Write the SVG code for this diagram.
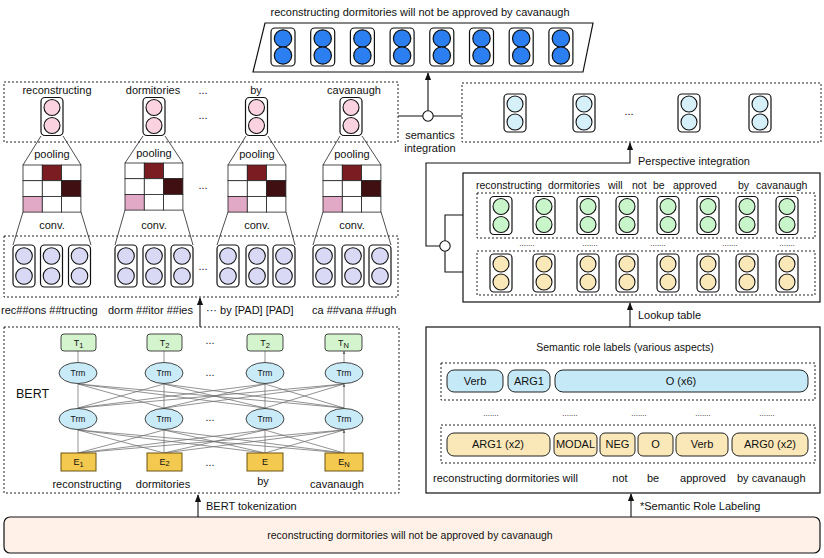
<svg xmlns="http://www.w3.org/2000/svg" xmlns:xlink="http://www.w3.org/1999/xlink" width="824" height="558" viewBox="0 0 824 558">
<style>
text{font-family:"Liberation Sans",Arial,sans-serif;fill:#111;}
.t11{font-size:11px;}
.t10{font-size:10.5px;}
.mid{text-anchor:middle;}
.dot{fill:none;stroke:#222;stroke-width:1;stroke-dasharray:2,2;}
.solid{fill:#fff;stroke:#111;stroke-width:1.2;}
.ln{fill:none;stroke:#111;stroke-width:1.1;}
.thin{fill:none;stroke:#222;stroke-width:0.8;}
.g{fill:none;stroke:#6f6f6f;stroke-width:0.75;}
.pb{fill:#c6e9f7;stroke:#222;stroke-width:1;}
.py{fill:#fbe8b8;stroke:#222;stroke-width:1;}
.cell{fill:#fff;stroke:#222;stroke-width:0.8;}
.trm{fill:#c9ebf7;stroke:#333;stroke-width:0.9;}
.tb{fill:#d3f4cc;stroke:#333;stroke-width:0.9;}
.eb{fill:#f4c94f;stroke:#6b5412;stroke-width:1;}
.sm{font-size:7.5px;}
</style>
<defs>
<marker id="ah" viewBox="0 0 10 10" refX="9" refY="5" markerWidth="7" markerHeight="7" orient="auto"><path d="M0,1 L10,5 L0,9 z" fill="#111"/></marker>
<marker id="ag" viewBox="0 0 10 10" refX="9" refY="5" markerWidth="5" markerHeight="5" orient="auto"><path d="M0,1 L10,5 L0,9 z" fill="#666"/></marker>
<g id="nb"><rect x="-12" y="-19" width="24" height="38" rx="4" fill="#fff" stroke="#111" stroke-width="1.2"/><circle cy="-8.5" r="8.7" stroke="#111" stroke-width="1.2"/><circle cy="8.5" r="8.7" stroke="#111" stroke-width="1.2"/></g>
<g id="n2"><rect x="-11" y="-19" width="22" height="38" rx="4" fill="#fff" stroke="#111" stroke-width="1.2"/><circle cy="-9" r="8" stroke="#111" stroke-width="1.1"/><circle cy="9" r="8" stroke="#111" stroke-width="1.1"/></g>
<g id="nl"><rect x="-11" y="-21" width="22" height="42" rx="4" fill="#fff" stroke="#111" stroke-width="1.2"/><circle cy="-10" r="8.3" stroke="#111" stroke-width="1.1"/><circle cy="10" r="8.3" stroke="#111" stroke-width="1.1"/></g>
<g id="grid">
<rect class="cell" x="0" y="0" width="19.3" height="15.7"/><rect x="19.3" y="0" width="19.3" height="15.7" fill="#7b1c22" stroke="#222" stroke-width="0.8"/><rect class="cell" x="38.6" y="0" width="19.3" height="15.7"/>
<rect class="cell" x="0" y="15.7" width="19.3" height="15.7"/><rect class="cell" x="19.3" y="15.7" width="19.3" height="15.7"/><rect x="38.6" y="15.7" width="19.3" height="15.7" fill="#3f0f12" stroke="#222" stroke-width="0.8"/>
<rect x="0" y="31.4" width="19.3" height="15.7" fill="#e2a9c6" stroke="#222" stroke-width="0.8"/><rect class="cell" x="19.3" y="31.4" width="19.3" height="15.7"/><rect class="cell" x="38.6" y="31.4" width="19.3" height="15.7"/>
</g>
</defs>
<rect width="824" height="558" fill="#fff"/>

<!-- top output -->
<g id="output">
<text class="t11 mid" x="420" y="16">reconstructing dormitories will not be approved by cavanaugh</text>
<polygon class="solid" points="265,23 593,23 583,72 253,72"/>
<use xlink:href="#nb" x="283" y="47" fill="#2b7ff0"/>
<use xlink:href="#nb" x="322.7" y="47" fill="#2b7ff0"/>
<use xlink:href="#nb" x="362.4" y="47" fill="#2b7ff0"/>
<use xlink:href="#nb" x="402.1" y="47" fill="#2b7ff0"/>
<use xlink:href="#nb" x="441.8" y="47" fill="#2b7ff0"/>
<use xlink:href="#nb" x="481.5" y="47" fill="#2b7ff0"/>
<use xlink:href="#nb" x="521.2" y="47" fill="#2b7ff0"/>
<use xlink:href="#nb" x="560.9" y="47" fill="#2b7ff0"/>
</g>

<!-- pooled word vectors -->
<g id="word-vectors">
<rect class="dot" x="4" y="82" width="394" height="60"/>
<text class="t11 mid" x="57" y="94">reconstructing</text>
<text class="t11 mid" x="153" y="94">dormitories</text>
<text class="t11 mid" x="203" y="94">...</text>
<text class="t11 mid" x="256" y="94">by</text>
<text class="t11 mid" x="354" y="94">cavanaugh</text>
<text class="t11 mid" x="203" y="119">...</text>
<use xlink:href="#n2" x="52" y="116.5" fill="#fbd3e0"/>
<use xlink:href="#n2" x="154" y="116.5" fill="#fbd3e0"/>
<use xlink:href="#n2" x="256.5" y="116.5" fill="#fbd3e0"/>
<use xlink:href="#n2" x="351" y="116.5" fill="#fbd3e0"/>
</g>

<!-- semantic vectors -->
<g id="semantic-vectors">
<rect class="dot" x="462" y="83" width="359" height="59"/>
<use xlink:href="#n2" x="515" y="113" fill="#d6f0f9"/>
<use xlink:href="#n2" x="584" y="113" fill="#d6f0f9"/>
<text class="t11 mid" x="629" y="115">...</text>
<use xlink:href="#n2" x="689" y="113" fill="#d6f0f9"/>
<use xlink:href="#n2" x="760" y="113" fill="#d6f0f9"/>
</g>

<!-- CNN pooling -->
<g id="cnn">
<g id="cnn1">
<line class="thin" x1="23" y1="165" x2="41" y2="136"/><line class="thin" x1="81" y1="165" x2="63" y2="136"/>
<text class="t11 mid" x="52" y="158">pooling</text>
<use xlink:href="#grid" x="23" y="165"/>
<line class="thin" x1="23" y1="212" x2="13" y2="245"/><line class="thin" x1="81" y1="212" x2="91" y2="245"/>
<text class="t11 mid" x="52" y="229">conv.</text>
</g>
<g id="cnn2">
<line class="thin" x1="125" y1="163" x2="143" y2="136"/><line class="thin" x1="183" y1="163" x2="165" y2="136"/>
<text class="t11 mid" x="154" y="157">pooling</text>
<use xlink:href="#grid" x="125" y="163"/>
<line class="thin" x1="125" y1="210" x2="115" y2="245"/><line class="thin" x1="183" y1="210" x2="193" y2="245"/>
<text class="t11 mid" x="154" y="229">conv.</text>
</g>
<text class="t11 mid" x="203" y="189">...</text>
<g id="cnn3">
<line class="thin" x1="228" y1="165" x2="246" y2="136"/><line class="thin" x1="286" y1="165" x2="268" y2="136"/>
<text class="t11 mid" x="257" y="158">pooling</text>
<use xlink:href="#grid" x="228" y="165"/>
<line class="thin" x1="228" y1="212" x2="217" y2="245"/><line class="thin" x1="286" y1="212" x2="295" y2="245"/>
<text class="t11 mid" x="257" y="229">conv.</text>
</g>
<g id="cnn4">
<line class="thin" x1="323" y1="165" x2="340" y2="136"/><line class="thin" x1="381" y1="165" x2="362" y2="136"/>
<text class="t11 mid" x="352" y="158">pooling</text>
<use xlink:href="#grid" x="323" y="165"/>
<line class="thin" x1="323" y1="212" x2="313" y2="245"/><line class="thin" x1="381" y1="212" x2="391" y2="245"/>
<text class="t11 mid" x="352" y="229">conv.</text>
</g>
</g>

<!-- subword vectors -->
<g id="subword-vectors">
<rect class="dot" x="4" y="236" width="394" height="61"/>
<use xlink:href="#nl" x="24" y="266" fill="#d9d9f5"/>
<use xlink:href="#nl" x="51.5" y="266" fill="#d9d9f5"/>
<use xlink:href="#nl" x="79.5" y="266" fill="#d9d9f5"/>
<use xlink:href="#nl" x="126" y="266" fill="#d9d9f5"/>
<use xlink:href="#nl" x="154" y="266" fill="#d9d9f5"/>
<use xlink:href="#nl" x="182" y="266" fill="#d9d9f5"/>
<text class="t11 mid" x="203" y="270">...</text>
<use xlink:href="#nl" x="228" y="266" fill="#d9d9f5"/>
<use xlink:href="#nl" x="257" y="266" fill="#d9d9f5"/>
<use xlink:href="#nl" x="284" y="266" fill="#d9d9f5"/>
<use xlink:href="#nl" x="324" y="266" fill="#d9d9f5"/>
<use xlink:href="#nl" x="353" y="266" fill="#d9d9f5"/>
<use xlink:href="#nl" x="380" y="266" fill="#d9d9f5"/>
</g>

<g id="subword-tokens">
<text class="t11" x="1" y="314">rec##ons ##tructing</text>
<text class="t11" x="108" y="314">dorm ##itor ##ies</text>
<text class="t11" x="206" y="314">··· by [PAD]  [PAD]</text>
<text class="t11" x="312" y="314">ca  ##vana ##ugh</text>
</g>

<!-- BERT -->
<g id="bert">
<rect class="dot" x="4" y="327" width="395" height="166"/>
<text x="16" y="398" style="font-size:12.5px">BERT</text>
<g id="bert-links">
<path class="g" marker-end="url(#ag)" d="M78,453 L78,430 M78,453 L164,430 M78,453 L265,430 M78,453 L344,430 M164,453 L78,430 M164,453 L164,430 M164,453 L265,430 M164,453 L344,430 M265,453 L78,430 M265,453 L164,430 M265,453 L265,430 M265,453 L344,430 M344,453 L78,430 M344,453 L164,430 M344,453 L265,430 M344,453 L344,430"/>
<path class="g" marker-end="url(#ag)" d="M78,408 L78,384 M78,408 L164,384 M78,408 L265,384 M78,408 L344,384 M164,408 L78,384 M164,408 L164,384 M164,408 L265,384 M164,408 L344,384 M265,408 L78,384 M265,408 L164,384 M265,408 L265,384 M265,408 L344,384 M344,408 L78,384 M344,408 L164,384 M344,408 L265,384 M344,408 L344,384"/>
<path class="g" marker-end="url(#ag)" d="M78,362 L78,351 M164,362 L164,351 M265,362 L265,351 M344,362 L344,351"/>
</g>
<g id="bert-t">
<rect class="tb" x="61" y="334" width="35" height="17" rx="3"/><text class="mid" x="78.5" y="346" style="font-size:9px">T<tspan class="sm" dy="2">1</tspan></text>
<rect class="tb" x="147" y="334" width="35" height="17" rx="3"/><text class="mid" x="164.5" y="346" style="font-size:9px">T<tspan class="sm" dy="2">2</tspan></text>
<rect class="tb" x="247" y="334" width="36" height="17" rx="3"/><text class="mid" x="265" y="346" style="font-size:9px">T<tspan class="sm" dy="2">2</tspan></text>
<rect class="tb" x="325" y="334" width="37" height="17" rx="3"/><text class="mid" x="343.5" y="346" style="font-size:9px">T<tspan class="sm" dy="2">N</tspan></text>
</g>
<g id="bert-trm">
<ellipse class="trm" cx="78" cy="373" rx="19" ry="10.5"/><text class="mid" x="78" y="376" style="font-size:8.5px">Trm</text>
<ellipse class="trm" cx="164" cy="373" rx="19" ry="10.5"/><text class="mid" x="164" y="376" style="font-size:8.5px">Trm</text>
<ellipse class="trm" cx="265" cy="373" rx="19" ry="10.5"/><text class="mid" x="265" y="376" style="font-size:8.5px">Trm</text>
<ellipse class="trm" cx="344" cy="373" rx="19" ry="10.5"/><text class="mid" x="344" y="376" style="font-size:8.5px">Trm</text>
<ellipse class="trm" cx="78" cy="419" rx="19" ry="10.5"/><text class="mid" x="78" y="422" style="font-size:8.5px">Trm</text>
<ellipse class="trm" cx="164" cy="419" rx="19" ry="10.5"/><text class="mid" x="164" y="422" style="font-size:8.5px">Trm</text>
<ellipse class="trm" cx="265" cy="419" rx="19" ry="10.5"/><text class="mid" x="265" y="422" style="font-size:8.5px">Trm</text>
<ellipse class="trm" cx="344" cy="419" rx="19" ry="10.5"/><text class="mid" x="344" y="422" style="font-size:8.5px">Trm</text>
</g>
<g id="bert-e">
<rect class="eb" x="61" y="453" width="35" height="18"/><text class="mid" x="78.5" y="465" style="font-size:9px">E<tspan class="sm" dy="2">1</tspan></text>
<rect class="eb" x="147" y="453" width="35" height="18"/><text class="mid" x="164.5" y="465" style="font-size:9px">E<tspan class="sm" dy="1">2</tspan></text>
<rect class="eb" x="247" y="453" width="36" height="18"/><text class="mid" x="265" y="465" style="font-size:9px">E</text>
<rect class="eb" x="325" y="453" width="38" height="18"/><text class="mid" x="344" y="465" style="font-size:9px">E<tspan class="sm" dy="2">N</tspan></text>
</g>
<g id="bert-dots">
<text class="t10 mid" x="210" y="344">...</text>
<text class="t10 mid" x="210" y="376">...</text>
<text class="t10 mid" x="210" y="421">...</text>
<text class="t10 mid" x="210" y="466">...</text>
</g>
<text class="t11 mid" x="87" y="488">reconstructing</text>
<text class="t11 mid" x="163" y="488">dormitories</text>
<text class="t11 mid" x="263" y="485">by</text>
<text class="t11 mid" x="337" y="488">cavanaugh</text>
</g>

<!-- semantic embeddings -->
<g id="srl-embeddings">
<rect class="solid" x="463" y="173" width="357" height="129"/>
<text class="t10" x="476" y="189">reconstructing</text>
<text class="t10" x="548" y="189">dormitories</text>
<text class="t10" x="608" y="189">will</text>
<text class="t10" x="632" y="189">not</text>
<text class="t10" x="653" y="189">be</text>
<text class="t10" x="673" y="189">approved</text>
<text class="t10" x="738" y="189">by</text>
<text class="t10" x="756" y="189">cavanaugh</text>
<rect class="dot" x="477" y="193" width="338" height="45"/>
<use xlink:href="#n2" x="501" y="215.5" fill="#c9f5cb"/>
<use xlink:href="#n2" x="544" y="215.5" fill="#c9f5cb"/>
<use xlink:href="#n2" x="588" y="215.5" fill="#c9f5cb"/>
<use xlink:href="#n2" x="627" y="215.5" fill="#c9f5cb"/>
<use xlink:href="#n2" x="668" y="215.5" fill="#c9f5cb"/>
<use xlink:href="#n2" x="708" y="215.5" fill="#c9f5cb"/>
<use xlink:href="#n2" x="747" y="215.5" fill="#c9f5cb"/>
<use xlink:href="#n2" x="787" y="215.5" fill="#c9f5cb"/>
<text class="mid" x="527" y="246" style="font-size:8px">.......</text>
<text class="mid" x="590" y="246" style="font-size:8px">.......</text>
<text class="mid" x="658" y="246" style="font-size:8px">.......</text>
<text class="mid" x="730" y="246" style="font-size:8px">.......</text>
<text class="mid" x="787" y="246" style="font-size:8px">.......</text>
<rect class="dot" x="477" y="251" width="338" height="44"/>
<use xlink:href="#n2" x="501" y="273" fill="#fbe8b8"/>
<use xlink:href="#n2" x="544" y="273" fill="#fbe8b8"/>
<use xlink:href="#n2" x="588" y="273" fill="#fbe8b8"/>
<use xlink:href="#n2" x="627" y="273" fill="#fbe8b8"/>
<use xlink:href="#n2" x="668" y="273" fill="#fbe8b8"/>
<use xlink:href="#n2" x="708" y="273" fill="#fbe8b8"/>
<use xlink:href="#n2" x="747" y="273" fill="#fbe8b8"/>
<use xlink:href="#n2" x="787" y="273" fill="#fbe8b8"/>
</g>

<!-- SRL labels -->
<g id="srl-labels">
<rect class="solid" x="426" y="327" width="394" height="166"/>
<text class="t10 mid" x="625" y="351">Semantic  role labels (various aspects)</text>
<rect class="dot" x="441" y="363" width="374" height="37"/>
<rect class="pb" x="447" y="370" width="56" height="22" rx="7"/><text class="t11 mid" x="475" y="385">Verb</text>
<rect class="pb" x="508" y="370" width="42" height="22" rx="7"/><text class="t11 mid" x="529" y="385">ARG1</text>
<rect class="pb" x="555" y="370" width="253" height="22" rx="8"/><text class="t11 mid" x="681" y="385">O (x6)</text>
<text class="mid" x="491" y="416" style="font-size:8px">.......</text>
<text class="mid" x="570" y="416" style="font-size:8px">.......</text>
<text class="mid" x="639" y="416" style="font-size:8px">.......</text>
<text class="mid" x="703" y="416" style="font-size:8px">.......</text>
<text class="mid" x="767" y="416" style="font-size:8px">.......</text>
<rect class="dot" x="441" y="425" width="374" height="38"/>
<rect class="py" x="447" y="433" width="103" height="23" rx="7"/><text class="t11 mid" x="498" y="448">ARG1 (x2)</text>
<rect class="py" x="554" y="433" width="43" height="23" rx="5"/><text class="t11 mid" x="575.5" y="448">MODAL</text>
<rect class="py" x="600" y="433" width="35" height="23" rx="5"/><text class="t11 mid" x="617.5" y="448">NEG</text>
<rect class="py" x="638" y="433" width="35" height="23" rx="5"/><text class="t11 mid" x="655.5" y="448">O</text>
<rect class="py" x="676" y="433" width="52" height="23" rx="6"/><text class="t11 mid" x="702" y="448">Verb</text>
<rect class="py" x="732" y="433" width="76" height="23" rx="7"/><text class="t11 mid" x="770" y="448">ARG0 (x2)</text>
<text class="t11" x="433" y="482">reconstructing dormitories will</text>
<text class="t11 mid" x="620" y="482">not</text>
<text class="t11 mid" x="653" y="482">be</text>
<text class="t11 mid" x="703" y="482">approved</text>
<text class="t11" x="737" y="482">by cavanaugh</text>
</g>

<!-- input sentence -->
<g id="input">
<rect x="4" y="517" width="816" height="36" rx="6" fill="#fff1e8" stroke="#111" stroke-width="1.2"/>
<text class="t10 mid" x="410" y="539">reconstructing dormitories will not be approved by cavanaugh</text>
</g>

<!-- connectors -->
<g id="connectors">
<line class="ln" x1="398" y1="116" x2="462" y2="116"/>
<line class="ln" x1="428" y1="111" x2="428" y2="73" marker-end="url(#ah)"/>
<circle cx="428" cy="116" r="5.2" fill="#fff" stroke="#111" stroke-width="1.1"/>
<path class="ln" d="M440,246 H426 V163 H630 V143" marker-end="url(#ah)"/>
<path class="ln" d="M463,215 H445 V272 H463"/>
<circle cx="445" cy="246" r="5.2" fill="#fff" stroke="#111" stroke-width="1.1"/>
<line class="ln" x1="630" y1="327" x2="630" y2="303" marker-end="url(#ah)"/>
<line class="ln" x1="631" y1="517" x2="631" y2="494" marker-end="url(#ah)"/>
<line class="ln" x1="198" y1="517" x2="198" y2="495" marker-end="url(#ah)"/>
<line class="ln" x1="200" y1="327" x2="200" y2="298" marker-end="url(#ah)"/>
</g>
<g id="connector-labels">
<text class="t11 mid" x="430" y="139">semantics</text>
<text class="t11 mid" x="430" y="152">integration</text>
<text class="t11" x="638" y="165">Perspective integration</text>
<text class="t11" x="638" y="319">Lookup table</text>
<text class="t11" x="640" y="510">*Semantic Role Labeling</text>
<text class="t11" x="206" y="510">BERT tokenization</text>
</g>
</svg>
